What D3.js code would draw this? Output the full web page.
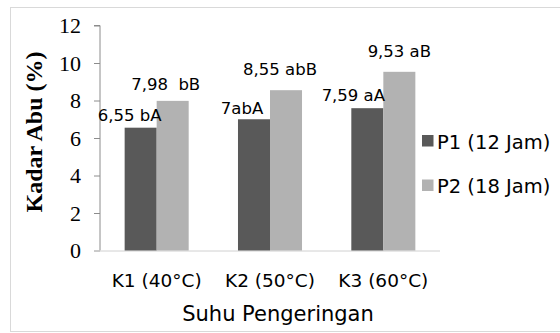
<!DOCTYPE html>
<html>
<head>
<meta charset="utf-8">
<script src="https://cdn.jsdelivr.net/npm/d3@7"></script>
<style>
  body { margin: 0; background: #fff; }
  svg { display: block; }
</style>
</head>
<body>
<div id="main_plot"></div>
<script>
// data
var categories = ["K1 (40\u00B0C)", "K2 (50\u00B0C)", "K3 (60\u00B0C)"];
var seriesNames = ["P1 (12 Jam)", "P2 (18 Jam)"];
var p1Values = [6.55, 7, 7.59];
var p2Values = [7.98, 8.55, 9.53];
var p1Labels = ["6,55 bA", "7abA", "7,59 aA"];
var p2Labels = ["7,98  bB", "8,55 abB", "9,53 aB"];
var yTicks = [0, 2, 4, 6, 8, 10, 12];

// hand-placed label nudges (px) like in the original
var p1Nudge = [[-11, -7], [-12, -5], [-14, -7]];
var p2Nudge = [[-7, -11], [-6, -15], [0, -15]];

var colors = ["#595959", "#b2b2b2"];

var W = 560, H = 333;
var plot = {left: 100, right: 440, top: 25.5, bottom: 250.5};

var svg = d3.select("#main_plot")
  .append("svg")
  .attr("width", W)
  .attr("height", H);

// outer frame
svg.append("rect")
  .attr("x", 10.5).attr("y", 7.5)
  .attr("width", 600).attr("height", 324)
  .attr("fill", "none")
  .attr("stroke", "#d9d9d9");

var x = d3.scaleBand()
  .domain(categories)
  .range([plot.left, plot.right])
  .paddingInner(0.435)
  .paddingOuter(0.2175);

var xs = d3.scaleBand()
  .domain([0, 1])
  .range([0, x.bandwidth()]);

var y = d3.scaleLinear()
  .domain([0, 12])
  .range([plot.bottom, plot.top]);

// y axis
var yAxis = svg.append("g")
  .attr("transform", "translate(" + plot.left + ",0)")
  .call(d3.axisLeft(y).tickValues(yTicks).tickSize(6).tickPadding(13));
yAxis.select(".domain").attr("stroke", "#8c8c8c").attr("d", "M-6," + y(12) + "H0V" + y(0));
yAxis.selectAll(".tick line").attr("stroke", "#8c8c8c");
yAxis.selectAll(".tick text")
  .attr("font-family", "'Liberation Serif', 'Times New Roman', serif")
  .attr("font-size", 22)
  .attr("fill", "#000")
  .attr("dy", "0.34em");

// x axis line
svg.append("line")
  .attr("x1", plot.left - 6).attr("x2", plot.right)
  .attr("y1", y(0) + 0.5).attr("y2", y(0) + 0.5)
  .attr("stroke", "#d0d0d0");

// x tick labels
svg.append("g").selectAll("text")
  .data(categories)
  .join("text")
    .attr("x", function(d) { return x(d) + x.bandwidth() / 2; })
    .attr("y", 287)
    .attr("text-anchor", "middle")
    .attr("font-family", "'DejaVu Sans', Verdana, sans-serif")
    .attr("font-size", 18.5)
    .attr("fill", "#000")
    .text(function(d) { return d; });

// bars
var series = [p1Values, p2Values];
series.forEach(function(vals, s) {
  svg.append("g").selectAll("rect")
    .data(vals)
    .join("rect")
      .attr("x", function(d, i) { return x(categories[i]) + xs(s); })
      .attr("y", function(d) { return y(d); })
      .attr("width", xs.bandwidth())
      .attr("height", function(d) { return y(0) - y(d); })
      .attr("fill", colors[s]);
});

// data labels
var labelSets = [[p1Values, p1Labels, p1Nudge], [p2Values, p2Labels, p2Nudge]];
labelSets.forEach(function(set, s) {
  svg.append("g").selectAll("text")
    .data(set[0])
    .join("text")
      .attr("x", function(d, i) { return x(categories[i]) + xs(s) + xs.bandwidth() / 2 + set[2][i][0]; })
      .attr("y", function(d, i) { return y(d) + set[2][i][1]; })
      .attr("text-anchor", "middle")
      .attr("font-family", "'DejaVu Sans', Verdana, sans-serif")
      .attr("font-size", 16.5)
      .attr("fill", "#000")
      .style("white-space", "pre")
      .text(function(d, i) { return set[1][i]; });
});

// axis titles
svg.append("text")
  .attr("transform", "translate(42,132) rotate(-90)")
  .attr("text-anchor", "middle")
  .attr("font-family", "'Liberation Serif', 'Times New Roman', serif")
  .attr("font-weight", "bold")
  .attr("font-size", 24)
  .attr("fill", "#000")
  .text("Kadar Abu (%)");

svg.append("text")
  .attr("x", 278).attr("y", 320.5)
  .attr("text-anchor", "middle")
  .attr("font-family", "'DejaVu Sans', Verdana, sans-serif")
  .attr("font-size", 21)
  .attr("fill", "#000")
  .text("Suhu Pengeringan");

// legend
var legend = svg.append("g").selectAll("g")
  .data(seriesNames)
  .join("g")
    .attr("transform", function(d, i) { return "translate(422," + (135 + i * 44.5) + ")"; });
legend.append("rect")
  .attr("width", 11.5).attr("height", 11.5)
  .attr("fill", function(d, i) { return colors[i]; });
legend.append("text")
  .attr("x", 15).attr("y", 13.5)
  .attr("font-family", "'DejaVu Sans', Verdana, sans-serif")
  .attr("font-size", 19.5)
  .attr("fill", "#000")
  .text(function(d) { return d; });
</script>
</body>
</html>
